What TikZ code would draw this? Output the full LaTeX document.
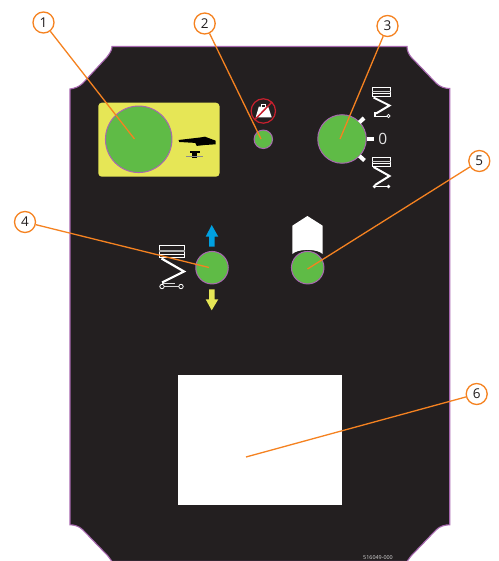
\documentclass[tikz,border=0pt]{standalone}
\usepackage{fontspec}
\setmainfont{Open Sans}
\definecolor{panel}{HTML}{231F20}
\definecolor{edge}{HTML}{A868B0}
\definecolor{knob}{HTML}{5FBB46}
\definecolor{lead}{HTML}{F58220}
\definecolor{yel}{HTML}{E6E656}
\definecolor{cyanarrow}{HTML}{00A0E0}
\definecolor{redsign}{HTML}{C8202E}
\tikzset{
  x=1pt,y=-1pt,
  knobdisc/.style={circle,fill=knob,draw=edge,line width=1pt,inner sep=0pt,minimum size=#1},
  callout/.style={circle,draw=lead,fill=white,line width=1.3pt,inner sep=0pt,minimum size=21pt,font=\fontsize{13.5}{15}\selectfont,text=panel},
  leadline/.style={draw=lead,line width=1.3pt},
  tick/.style={draw=white,line width=4pt},
}
\begin{document}
\begin{tikzpicture}
\useasboundingbox (0,0) rectangle (498,561);
\fill[white] (0,0) rectangle (498,561);
% panel
\path[fill=panel,draw=edge,line width=1.1pt] (112,46.5) -- (407,46.5)
  .. controls (407,50) and (408.5,54) .. (411,57)
  -- (436,83)
  .. controls (440,87) and (445,88.5) .. (449.7,88.5)
  -- (449.7,524.8)
  .. controls (445,524.8) and (440,526) .. (436,530)
  -- (411,556) -- (407,561.5) -- (112,561.5) -- (108,556)
  -- (83,530)
  .. controls (79,526) and (74,524.8) .. (70,524.8)
  -- (70,89)
  .. controls (74,88.5) and (79,87) .. (83,83)
  -- (107,57)
  .. controls (110,53) and (112,50) .. (112,46.5) -- cycle;
% yellow plate
\fill[yel,rounded corners=3.5pt] (98.3,102.7) rectangle (219.5,176.7);
\node[knobdisc=66.5pt] (k1) at (138.7,139.3) {};
% table icon
\fill[black] (178.5,140) -- (200,137.5) -- (205,136.7) -- (215.7,140.7) -- (215.7,144.3) -- (205,145) -- (196.7,145.9) -- (195.3,142.9) -- (179.3,142) -- cycle;
\fill[black] (189.5,151.5) rectangle (200,152.8);
\fill[black] (192,152) rectangle (197.3,158.3);
\draw[black!45,line width=.5pt] (186,156.7) -- (203,156.7);
% small led + sign
\node[knobdisc=18.5pt] (k2) at (263.3,139.3) {};
\fill[white] (255.7,117.3) -- (271.7,117.3) -- (268.2,106.7) -- (258.8,106.7) -- cycle;
\fill[white] (260.5,104) rectangle (266,107);
\fill[panel] (262,105) rectangle (264.5,107);
\draw[redsign,line width=1.2pt] (263.3,111) circle (12.2);
\draw[redsign,line width=1.5pt] (255,119.5) -- (272,102);
% knob 3
\node[knobdisc=48.5pt] (k3) at (342,139) {};
\draw[tick] (359.3,122.5) -- (364,118);
\draw[tick] (367,139) -- (374,139);
\draw[tick] (359.5,156) -- (364.5,160.5);
\node[text=white!90!black,font=\fontsize{15.5}{17}\selectfont,inner sep=0pt] (zero) at (382.7,138.7) {0};
% lift icon, raised
\begin{scope}[shift={(372,87)}]
  \draw[white,line width=.8pt] (.4,.4) rectangle (18.6,9.6);
  \fill[white] (0,0) rectangle (19,1.4);
  \fill[white!80!black] (0,3.6) rectangle (19,4.8);
  \fill[white] (0,6.4) rectangle (19,7.4);
  \draw[white,line width=2pt,line join=miter] (1.5,10.5) -- (17.5,18.5) -- (4,26.5);
  \draw[white,line width=.7pt] (2,29) -- (16,29);
  \fill[white] (2,25.5) rectangle (4,30);
  \draw[white,line width=.7pt,fill=panel] (16.5,29) circle (1.6);
\end{scope}
% lift icon, lowered
\begin{scope}[shift={(372,157)}]
  \draw[white,line width=.8pt] (.4,.4) rectangle (18.6,9.6);
  \fill[white] (0,0) rectangle (19,1.4);
  \fill[white!80!black] (0,3.6) rectangle (19,4.8);
  \fill[white] (0,6.4) rectangle (19,7.4);
  \draw[white,line width=2pt,line join=miter] (1.5,10) -- (17.5,19) -- (3,28);
  \draw[white,line width=.9pt] (2,29.5) -- (16,29.5);
  \fill[white] (2.5,29.5) circle (1.9);
  \fill[white] (16.5,29.5) circle (1.9);
\end{scope}
% knob 4
\node[knobdisc=32.5pt] (k4) at (212,267.7) {};
\fill[cyanarrow] (209,246.7) -- (209,236.7) -- (205.7,236.7) -- (211.7,225) -- (218.3,236.7) -- (214.7,236.7) -- (214.7,246.7) -- cycle;
\fill[yel] (209,289.3) -- (209,299.3) -- (205.7,299.3) -- (211.7,310.3) -- (218.3,299.3) -- (214.7,299.3) -- (214.7,289.3) -- cycle;
% lift icon beside knob 4
\begin{scope}[shift={(159,245)}]
  \draw[white,line width=.8pt] (.4,.4) rectangle (25.6,12.6);
  \fill[white] (0,0) rectangle (26,1.4);
  \fill[white!70!black] (0,5) rectangle (26,6.5);
  \fill[white] (0,9) rectangle (26,10.3);
  \draw[white,line width=2.2pt,line join=miter] (2.5,13.5) -- (25,26.5) -- (3,37.5);
  \draw[white!85!black,line width=.8pt] (4,41) -- (22,41);
  \draw[white!85!black,line width=.8pt] (3,38) -- (16,38);
  \draw[white,line width=.8pt,fill=panel] (3,41.5) circle (2.2);
  \draw[white,line width=.8pt,fill=panel] (22,41.5) circle (2.2);
\end{scope}
% knob 5
\node[knobdisc=32.5pt] (k5) at (307.7,267.7) {};
\fill[white] (307.4,216) -- (322.7,225.7) -- (322.7,254)
  .. controls (317,248.5) and (298,248.5) .. (292.3,254) -- (292.3,225.7) -- cycle;
% white window
\fill[white] (177.5,375) rectangle (342,505);
% serial
\node[text=white!85!black,font=\fontsize{5.4}{6}\selectfont,inner sep=0pt] (serial) at (378,557.8) {516049-000};
% callouts
\node[callout] (c1) at (43.5,22.5) {1};
\node[callout] (c2) at (204.7,23.5) {2};
\node[callout] (c3) at (387.5,26) {3};
\node[callout] (c4) at (25,222) {4};
\node[callout] (c5) at (479.3,161) {5};
\node[callout] (c6) at (476.7,394) {6};
\coordinate (t1) at (134.5,139);
\coordinate (t2) at (261,139);
\coordinate (t3) at (340,139);
\coordinate (t4) at (209,267.5);
\coordinate (t5) at (307.5,269);
\coordinate (t6) at (246,457);
\draw[leadline] (c1) -- (t1);
\draw[leadline] (c2) -- (t2);
\draw[leadline] (c3) -- (t3);
\draw[leadline] (c4) -- (t4);
\draw[leadline] (c5) -- (t5);
\draw[leadline] (c6) -- (t6);
\end{tikzpicture}
\end{document}
